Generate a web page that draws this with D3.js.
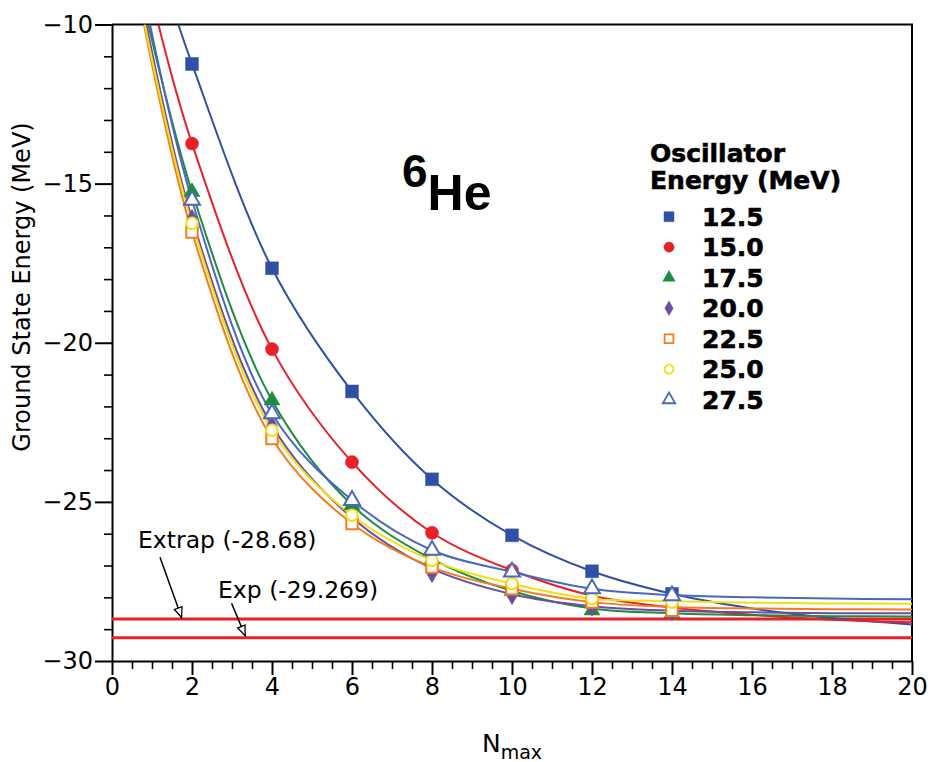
<!DOCTYPE html>
<html><head><meta charset="utf-8">
<script src="https://cdn.jsdelivr.net/npm/d3@7"></script>
<style>body{margin:0;background:#fff} svg{display:block}</style>
</head><body>
<svg id="chart" width="932" height="762"></svg>
<script>
// ---------- data ----------
const nmax = [2, 4, 6, 8, 10, 12, 14];
const energies = ["12.5", "15.0", "17.5", "20.0", "22.5", "25.0", "27.5"];
// marker values (MeV); null = no marker
const e125 = [-11.24, -17.66, -21.53, -24.29, -26.05, -27.18, -27.89];
const e150 = [-13.74, -20.20, -23.75, -25.97, -27.15, null, null];
const e175 = [-15.26, -21.81, -25.10, -26.80, -27.80, -28.41, -28.50];
const e200 = [-16.10, -22.60, -25.50, -27.25, -27.94, -28.30, -28.45];
const e225 = [-16.52, -23.01, -25.68, -27.05, -27.73, -28.15, -28.41];
const e250 = [-16.25, -22.75, -25.42, -26.84, -27.57, -28.04, -28.15];
const e275 = [-15.52, -22.23, -24.95, -26.52, -27.20, -27.73, -27.95];
// fitted curves, read at these Nmax values
const fitN = [2, 4, 6, 8, 10, 12, 14, 16, 18, 20];
const fit125 = [-11.24, -17.66, -21.53, -24.29, -26.05, -27.18, -27.89, -28.35, -28.65, -28.85];
const fit150 = [-13.74, -20.20, -23.75, -25.97, -27.15, -27.95, -28.32, -28.55, -28.70, -28.78];
const fit175 = [-15.26, -21.81, -25.10, -26.80, -27.80, -28.35, -28.50, -28.56, -28.59, -28.60];
const fit200 = [-16.10, -22.60, -25.50, -27.10, -27.90, -28.28, -28.42, -28.47, -28.50, -28.50];
const fit225 = [-16.52, -23.01, -25.68, -27.05, -27.73, -28.15, -28.30, -28.35, -28.37, -28.38];
const fit250 = [-16.25, -22.75, -25.42, -26.84, -27.57, -28.04, -28.12, -28.17, -28.19, -28.20];
const fit275 = [-15.52, -22.23, -24.95, -26.52, -27.20, -27.73, -27.93, -28.00, -28.04, -28.06];
// Nmax where each fitted curve enters the frame at the top (-10 MeV)
const fitStartN = [1.66, 1.16, 0.91, 0.86, 0.80, 0.82, 0.95];
const xTicks = [0, 2, 4, 6, 8, 10, 12, 14, 16, 18, 20];
const yTicks = [-30, -25, -20, -15, -10];
const extrapValue = -28.68;
const expValue = -29.269;

// ---------- styling ----------
const markers = [e125, e150, e175, e200, e225, e250, e275];
const fits = [fit125, fit150, fit175, fit200, fit225, fit250, fit275];
const colors = ["#2f50a6", "#e8202a", "#1e8b3e", "#6a4ea2", "#f47c20", "#f2df10", "#4a68bd"];
const shapes = [d3.symbolSquare, d3.symbolCircle, d3.symbolTriangle, d3.symbolDiamond, d3.symbolSquare, d3.symbolCircle, d3.symbolTriangle];
const filled = [true, true, true, true, false, false, false];
const sizes = [165, 135, 110, 100, 130, 105, 110];

const svg = d3.select("#chart");
const FONT = "'DejaVu Sans', sans-serif";
const x = d3.scaleLinear().domain([0, 20]).range([112, 912]);
const y = d3.scaleLinear().domain([-30, -10]).range([661, 24.5]);

// clip
svg.append("defs").append("clipPath").attr("id", "plot")
  .append("rect").attr("x", x(0)).attr("y", y(-10)).attr("width", x(20) - x(0)).attr("height", y(-30) - y(-10));

// axes
const minorX = d3.range(0, 20.001, 0.5).filter(v => v % 2 !== 0);
svg.append("g").attr("transform", `translate(0,${y(-30)})`)
  .call(d3.axisBottom(x).tickValues(minorX).tickSize(8).tickFormat("").tickSizeOuter(0))
  .call(g => g.select(".domain").remove())
  .selectAll("line").attr("stroke", "#000").attr("stroke-width", 1.6);
const gx = svg.append("g").attr("transform", `translate(0,${y(-30)})`)
  .call(d3.axisBottom(x).tickValues(xTicks).tickSize(14).tickPadding(3).tickSizeOuter(0));
gx.select(".domain").attr("stroke-width", 2);
gx.selectAll("line").attr("stroke-width", 2);
gx.selectAll("text").attr("font-family", FONT).attr("font-size", 24).attr("fill", "#000");

const minorY = d3.range(-30, -9.999, 1).filter(v => v % 5 !== 0);
svg.append("g").attr("transform", `translate(${x(0)},0)`)
  .call(d3.axisLeft(y).tickValues(minorY).tickSize(8).tickFormat("").tickSizeOuter(0))
  .call(g => g.select(".domain").remove())
  .selectAll("line").attr("stroke", "#000").attr("stroke-width", 1.6);
const gy = svg.append("g").attr("transform", `translate(${x(0)},0)`)
  .call(d3.axisLeft(y).tickValues(yTicks).tickSize(17).tickPadding(2).tickSizeOuter(0));
gy.select(".domain").attr("stroke-width", 2);
gy.selectAll("line").attr("stroke-width", 2);
gy.selectAll("text").attr("font-family", FONT).attr("font-size", 24).attr("fill", "#000");

// frame top/right
svg.append("path").attr("d", `M${x(0)},${y(-10)}H${x(20)}V${y(-30)}`)
  .attr("fill", "none").attr("stroke", "#000").attr("stroke-width", 2);

// axis titles
svg.append("text").attr("transform", `translate(30,287) rotate(-90)`)
  .attr("text-anchor", "middle").attr("font-family", FONT).attr("font-size", 24)
  .text("Ground State Energy (MeV)");
const xt = svg.append("text").attr("x", 512).attr("y", 752).attr("text-anchor", "middle")
  .attr("font-family", FONT).attr("font-size", 25);
xt.append("tspan").text("N");
xt.append("tspan").attr("font-size", 19).attr("dy", 7).text("max");

// reference lines
const plot = svg.append("g").attr("clip-path", "url(#plot)");
[extrapValue, expValue].forEach(v => {
  plot.append("line").attr("x1", x(0)).attr("x2", x(20)).attr("y1", y(v)).attr("y2", y(v))
    .attr("stroke", "#e8202a").attr("stroke-width", 3);
});

// curves
const line = d3.line().x(d => x(d[0])).y(d => y(d[1])).curve(d3.curveCatmullRom.alpha(0.5));
fits.forEach((f, i) => {
  const pts = [[fitStartN[i], -10]].concat(fitN.map((n, j) => [n, f[j]]));
  plot.append("path").attr("d", line(pts)).attr("fill", "none")
    .attr("stroke", colors[i]).attr("stroke-width", 2);
});

// markers
markers.forEach((m, i) => {
  const sym = d3.symbol().type(shapes[i]).size(sizes[i]);
  plot.append("g").selectAll("path")
    .data(nmax.map((n, j) => [n, m[j]]).filter(d => d[1] !== null))
    .join("path")
    .attr("transform", d => `translate(${x(d[0])},${y(d[1])})`)
    .attr("d", sym())
    .attr("fill", filled[i] ? colors[i] : "#fff")
    .attr("stroke", colors[i]).attr("stroke-width", filled[i] ? 0.5 : 2);
});

// label 6He
const lbl = svg.append("text").attr("x", 402).attr("y", 187).attr("font-family", "'Liberation Sans', Arial, sans-serif")
  .attr("font-weight", "bold");
lbl.append("tspan").attr("font-size", 46).text("6");
lbl.append("tspan").attr("font-size", 50).attr("dy", 23).text("He");

// legend
const LFONT = "'DejaVu Sans', sans-serif";
svg.append("text").attr("x", 650).attr("y", 162).attr("font-family", LFONT).attr("font-weight", "bold")
  .attr("font-size", 25).attr("stroke", "#000").attr("stroke-width", 0.6).text("Oscillator");
svg.append("text").attr("x", 650).attr("y", 189).attr("font-family", LFONT).attr("font-weight", "bold")
  .attr("font-size", 25).attr("stroke", "#000").attr("stroke-width", 0.6).text("Energy (MeV)");
energies.forEach((e, i) => {
  const cy = 216.7 + i * 30.5;
  svg.append("path").attr("transform", `translate(669,${cy})`)
    .attr("d", d3.symbol().type(shapes[i]).size(sizes[i] * 0.6)())
    .attr("fill", filled[i] ? colors[i] : "#fff")
    .attr("stroke", colors[i]).attr("stroke-width", filled[i] ? 0.5 : 1.8);
  svg.append("text").attr("x", 702).attr("y", cy + 9).attr("font-family", LFONT).attr("font-weight", "bold")
    .attr("font-size", 25).attr("stroke", "#000").attr("stroke-width", 0.6).text(e);
});

// annotations
svg.append("defs").append("marker").attr("id", "ah").attr("viewBox", "0 0 12 10")
  .attr("refX", 11).attr("refY", 5).attr("markerWidth", 12).attr("markerHeight", 10)
  .attr("markerUnits", "userSpaceOnUse").attr("orient", "auto")
  .append("path").attr("d", "M1,1 L11,5 L1,9 Z").attr("fill", "#fff").attr("stroke", "#000").attr("stroke-width", 1.3);
svg.append("text").attr("x", 138).attr("y", 548).attr("font-family", FONT).attr("font-size", 23.5)
  .text(`Extrap (${extrapValue.toFixed(2)})`);
svg.append("text").attr("x", 218).attr("y", 598).attr("font-family", FONT).attr("font-size", 23.5)
  .text(`Exp (${expValue.toFixed(3)})`);
svg.append("line").attr("x1", x(1.2)).attr("y1", y(-26.74)).attr("x2", x(1.74)).attr("y2", y(extrapValue) - 1.5)
  .attr("stroke", "#000").attr("stroke-width", 1.5).attr("marker-end", "url(#ah)");
svg.append("line").attr("x1", x(2.99)).attr("y1", y(-28.19)).attr("x2", x(3.33)).attr("y2", y(expValue) - 2)
  .attr("stroke", "#000").attr("stroke-width", 1.5).attr("marker-end", "url(#ah)");
</script>
</body></html>
